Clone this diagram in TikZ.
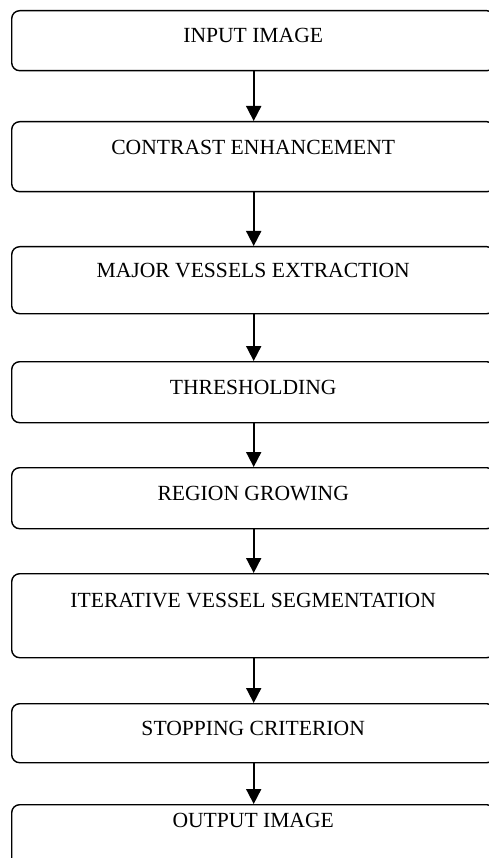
\documentclass[tikz,border=0pt]{standalone}
\usepackage{fontspec}
\setmainfont{Liberation Serif}
\usetikzlibrary{arrows.meta}
\tikzset{
  stepbox/.style 2 args={draw, rounded corners=8pt, line width=1.4pt,
    minimum width=483pt, inner xsep=0pt, inner ysep=0pt,
    text height=#1, text depth=#2, anchor=north west,
    font=\fontsize{21.6}{25}\selectfont},
  flow/.style={line width=1.8pt, -{Triangle[width=15pt,length=15pt]}}
}
\begin{document}
\begin{tikzpicture}[x=1pt,y=-1pt]
\useasboundingbox (0,0) rectangle (489,858);
\fill[white] (0,0) rectangle (489,858);
\clip (0,0) rectangle (489,858);
\node[stepbox={32pt}{28pt}] (b1) at (11,10) {INPUT IMAGE};
\node[stepbox={33pt}{37pt}] (b2) at (11,121) {CONTRAST ENHANCEMENT};
\node[stepbox={31pt}{36pt}] (b3) at (11,246) {MAJOR VESSELS EXTRACTION};
\node[stepbox={33pt}{28pt}] (b4) at (11,361) {THRESHOLDING};
\node[stepbox={33pt}{28pt}] (b5) at (11,467) {REGION GROWING};
\node[stepbox={34pt}{50pt}] (b6) at (11,573) {ITERATIVE VESSEL SEGMENTATION};
\node[stepbox={32pt}{27pt}] (b7) at (11,703) {STOPPING CRITERION};
\node[stepbox={23pt}{47pt}] (b8) at (11,804) {OUTPUT IMAGE};
\foreach \a/\b in {b1/b2,b2/b3,b3/b4,b4/b5,b5/b6,b6/b7,b7/b8}
  \draw[flow] ([xshift=0.5pt]\a.south) -- ([xshift=0.5pt]\b.north);
\end{tikzpicture}
\end{document}
